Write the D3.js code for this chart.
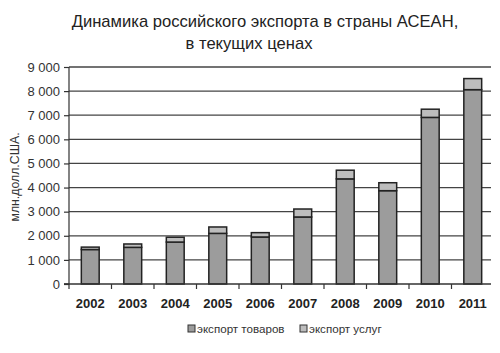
<!DOCTYPE html>
<html><head><meta charset="utf-8">
<script src="https://cdn.jsdelivr.net/npm/d3@7"></script>
<style>body{margin:0;background:#fff}svg{display:block;font-family:"Liberation Sans",Arial,sans-serif}</style>
</head><body>
<svg id="c" width="500" height="353"></svg>
<script>
const years = ["2002","2003","2004","2005","2006","2007","2008","2009","2010","2011"];
const goods = [1430,1520,1740,2100,1950,2780,4360,3870,6910,8060];
const services = [100,140,200,265,180,330,360,330,340,460];
const yTicks = [0,1000,2000,3000,4000,5000,6000,7000,8000,9000];
const seriesNames = ["экспорт товаров","экспорт услуг"];
const title = ["Динамика российского экспорта в страны АСЕАН,","в текущих ценах"];
const yLabel = "млн.долл.США.";

(function(){
const svg = d3.select("#c");
const pL = 69, pR = 494, pT = 67, pB = 284;
const x = d3.scaleBand().domain(years).range([pL, pR]).paddingInner(0.58).paddingOuter(0.29);
const y = d3.scaleLinear().domain([0, 9000]).range([pB, pT]);
const fmt = v => v === 0 ? "0" : d3.format(",")(v).replace(/,/g, " ");

// title
const tx = [265, 249];
svg.append("g").selectAll("text").data(title).join("text")
  .attr("x", (d,i) => tx[i]).attr("y", (d,i) => 27 + i*22).attr("text-anchor","middle")
  .attr("font-size", 16.6).attr("fill","#222").text(d => d);

// gridlines
svg.append("g").selectAll("line").data(yTicks.filter(d => d > 0)).join("line")
  .attr("x1", pL).attr("x2", pR - 3).attr("y1", d => y(d)).attr("y2", d => y(d))
  .attr("stroke","#444").attr("stroke-width",1.3);

// y axis
const ya = svg.append("g").attr("transform", `translate(${pL},0)`)
  .call(d3.axisLeft(y).tickValues(yTicks).tickFormat(fmt).tickSize(5).tickPadding(4));
ya.selectAll("path,line").attr("stroke","#333").attr("stroke-width",1.2);
ya.select("path.domain").attr("d", `M-5,${pB}H0V${pT}`);
ya.selectAll("text").attr("font-size",13).attr("fill","#333").attr("font-family","Liberation Sans, Arial, sans-serif");

// y label
svg.append("text").attr("transform","translate(19,177) rotate(-90)").attr("text-anchor","middle")
  .attr("font-size",12.3).attr("fill","#333").text(yLabel);

// bars
const bars = svg.append("g");
const bw = x.bandwidth();
bars.selectAll("rect.g").data(years).join("rect").attr("class","g")
  .attr("x", d => x(d)).attr("width", bw)
  .attr("y", (d,i) => y(goods[i])).attr("height", (d,i) => y(0) - y(goods[i]))
  .attr("fill","#9c9c9c").attr("stroke","#222").attr("stroke-width",1.5);
bars.selectAll("rect.s").data(years).join("rect").attr("class","s")
  .attr("x", d => x(d)).attr("width", bw)
  .attr("y", (d,i) => y(goods[i] + services[i])).attr("height", (d,i) => y(goods[i]) - y(goods[i] + services[i]))
  .attr("fill","#bdbdbd").attr("stroke","#222").attr("stroke-width",1.5);

// x axis
const xa = svg.append("g").attr("transform", `translate(0,${pB})`);
xa.append("line").attr("x1", pL - 5).attr("x2", pR - 3).attr("y1",0).attr("y2",0).attr("stroke","#333").attr("stroke-width",1.3);
const step = x.step();
xa.selectAll("line.t").data(d3.range(years.length)).join("line").attr("class","t")
  .attr("x1", i => pL + i*step).attr("x2", i => pL + i*step)
  .attr("y1",0).attr("y2",5).attr("stroke","#333").attr("stroke-width",1.2);
xa.selectAll("text").data(years).join("text")
  .attr("x", d => x(d) + bw/2).attr("y", 24).attr("text-anchor","middle")
  .attr("font-size",13).attr("font-weight","bold").attr("fill","#222").text(d => d);

// legend
const colors = ["#9c9c9c","#bdbdbd"];
const lg = svg.append("g");
const lx = [188, 300];
seriesNames.forEach((n,i) => {
  lg.append("rect").attr("x", lx[i]).attr("y", 325).attr("width",7).attr("height",7)
    .attr("fill", colors[i]).attr("stroke","#333").attr("stroke-width",1);
  lg.append("text").attr("x", lx[i] + 9).attr("y", 333).attr("font-size",11.6).attr("fill","#333").text(n);
});
})();
</script>
</body></html>
